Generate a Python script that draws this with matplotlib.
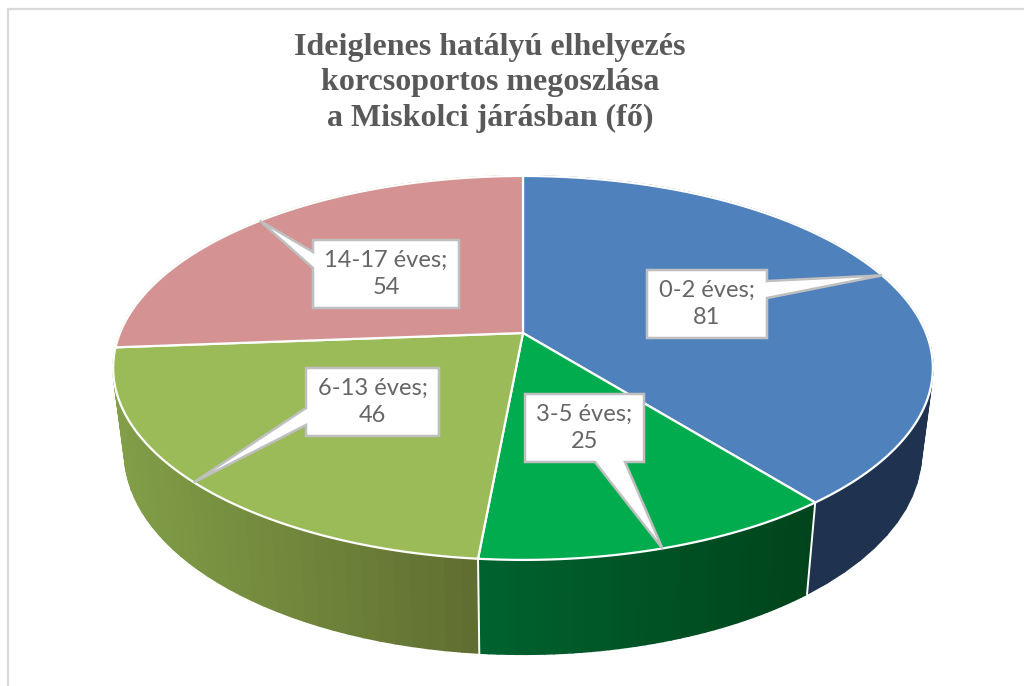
import numpy as np
import matplotlib
matplotlib.use('Agg')
import matplotlib.pyplot as plt
from matplotlib.colors import to_rgb
from matplotlib.patches import Polygon

categories = ['0-2 éves', '3-5 éves', '6-13 éves', '14-17 éves']
values = [81, 25, 46, 54]
title_lines = ['Ideiglenes hatályú elhelyezés', 'korcsoportos megoszlása', 'a Miskolci járásban (fő)']

top_colors = ['#4f81bd', '#00ac4e', '#9bbb59', '#d49392']
# last wall only peeks out at the far left, where the picture shows the olive one
wall_left = ['#1f3350', '#00622f', '#829e48', '#829e48']
wall_right = ['#1f3350', '#00441c', '#5f6e30', '#829e48']

# label boxes: left, top, right, bottom in pixels, and which side the pointer leaves from
boxes = [(647, 270, 767, 338), (525, 394, 644, 462), (306, 368, 439, 436), (313, 240, 459, 308)]
pointer_base = [('right', 281, 298), ('bottom', 595, 625), ('left', 408, 425), ('left', 252, 268)]

# perspective of the pie, fitted on the picture
CX, CY = 523, 333
A, B, K = 403, 185.6, 0.182
BOTTOM_SX, BOTTOM_SY, BOTTOM_CY = 0.972, 1.05, 416


def rim(t, bottom=False):
    # t in degrees, clockwise from 12 o'clock
    t = np.radians(t)
    X, Y = np.sin(t), np.cos(t)
    w = 1 + K * Y
    if bottom:
        return CX + BOTTOM_SX * A * X / w, BOTTOM_CY - BOTTOM_SY * B * Y / w
    return CX + A * X / w, CY - B * Y / w


fig = plt.figure(figsize=(10.24, 6.86), dpi=100)
ax = fig.add_axes([0, 0, 1, 1])
ax.set_xlim(0, 1024)
ax.set_ylim(686, 0)
ax.axis('off')

# the chart frame runs off the picture, only top and left show
ax.plot([8, 8, 1024], [686, 9, 9], color='#d9d9d9', lw=1.6, zorder=1)

edges = np.concatenate([[0], np.cumsum(values)]) / sum(values) * 360

# side walls
for i in range(len(values)):
    ts = np.linspace(edges[i], edges[i + 1], 40)
    c0, c1 = np.array(to_rgb(wall_left[i])), np.array(to_rgb(wall_right[i]))
    xt, yt = rim(ts)
    xb, yb = rim(ts, bottom=True)
    for j in range(len(ts) - 1):
        # darker to the right, whichever way the slice runs
        f = (xt.max() - (xt[j] + xt[j + 1]) / 2) / max(xt.max() - xt.min(), 1)
        col = c1 + (c0 - c1) * f
        ax.fill([xt[j], xt[j + 1], xb[j + 1], xb[j]], [yt[j], yt[j + 1], yb[j + 1], yb[j]],
                color=col, lw=1.2, zorder=2)

# white seams between the walls, only the two on the front show
for e in edges[1:3]:
    xt, yt = rim(e)
    xb, yb = rim(e, bottom=True)
    ax.plot([xt, xb], [yt, yb], color='white', lw=1.4, zorder=3)

# top face
for i in range(len(values)):
    ts = np.linspace(edges[i], edges[i + 1], 200)
    x, y = rim(ts)
    ax.add_patch(Polygon(np.column_stack([np.r_[CX, x], np.r_[CY, y]]), closed=True,
                         fc=top_colors[i], ec='white', lw=1.6, joinstyle='round', zorder=4))

# labels with pointers
for i in range(len(values)):
    l, t, r, b = boxes[i]
    tip = rim((edges[i] + edges[i + 1]) / 2)
    side, p0, p1 = pointer_base[i]
    if side == 'right':
        pts = [(l, t), (r, t), (r, p0), tip, (r, p1), (r, b), (l, b)]
    elif side == 'bottom':
        pts = [(l, t), (r, t), (r, b), (p1, b), tip, (p0, b), (l, b)]
    else:
        pts = [(l, t), (r, t), (r, b), (l, b), (l, p1), tip, (l, p0)]
    ax.add_patch(Polygon(pts, closed=True, fc='white', ec='#bfbfbf', lw=1.8, joinstyle='miter', zorder=5))
    ax.text((l + r) / 2, (t + b) / 2, categories[i] + ';\n' + str(values[i]), ha='center', va='center',
            fontsize=17, family='Lato', fontweight='normal', color='#666666', linespacing=1.4, zorder=6)

for i, line in enumerate(title_lines):
    ax.text(490, 47 + i * 35.5, line, ha='center', va='center', fontsize=23, family='Liberation Serif',
            fontweight='bold', color='#595959', zorder=6)

fig.savefig('out.png', dpi=100)
